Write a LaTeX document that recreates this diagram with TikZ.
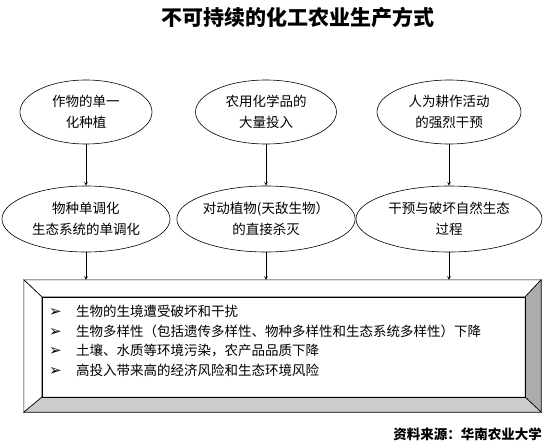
\documentclass[tikz,border=0pt]{standalone}
\usepackage{fontspec}
\setmainfont{Noto Sans CJK SC}
\newfontfamily\symfont{DejaVu Sans}
\usetikzlibrary{shapes.geometric, arrows, positioning}
\tikzstyle{cause} = [ellipse, draw=black, line width=0.6pt, inner sep=0pt, minimum height=64pt, align=center, font=\fontsize{13.5}{21}\selectfont]
\tikzstyle{effect} = [cause, minimum height=66pt]
\tikzstyle{bevel} = [draw=black, line width=0.6pt, line join=miter]
\tikzstyle{arrow} = [line width=0.6pt,->,>=stealth]
\newcommand{\bulletmark}{\makebox[27pt][l]{\symfont\fontsize{15}{15}\selectfont ➢}}

\begin{document}
\begin{tikzpicture}[x=1pt, y=-1pt]
\useasboundingbox (0,0) rectangle (544,442);

\node (title) at (298,17) {\fontsize{21}{24}\selectfont\bfseries 不可持续的化工农业生产方式};

% causes
\node (t1) [cause, minimum width=132pt] at (86,112) {作物的单一\\化种植};
\node (t2) [cause, minimum width=141pt] at (266,112) {农用化学品的\\大量投入};
\node (t3) [cause, minimum width=144pt] at (449,112) {人为耕作活动\\的强烈干预};

% effects
\node (m1) [effect, minimum width=168pt] at (86,219) {物种单调化\\生态系统的单调化};
\node (m2) [effect, minimum width=177pt] at (266,219) {对动植物(天敌生物）\\的直接杀灭};
\node (m3) [effect, minimum width=186pt] at (449,219) {干预与破坏自然生态\\过程};

% result panel
\node (frame) [minimum width=517pt, minimum height=132pt, inner sep=0pt] at (282.5,346) {};
\node (panel) [minimum width=483pt, minimum height=100pt, inner sep=0pt] at (283.5,347) {};
\filldraw [bevel, fill=white] (frame.north west) -- (frame.north east) -- (panel.north east) -- (panel.north west) -- cycle;
\filldraw [bevel, fill=white] (frame.north west) -- (panel.north west) -- (panel.south west) -- (frame.south west) -- cycle;
\filldraw [bevel, fill=gray!65] (frame.north east) -- (frame.south east) -- (panel.south east) -- (panel.north east) -- cycle;
\filldraw [bevel, fill=gray!40] (frame.south west) -- (frame.south east) -- (panel.south east) -- (panel.south west) -- cycle;
\draw [bevel] (panel.north west) rectangle (panel.south east);

\node (list) [anchor=west, inner sep=0pt, align=left, font=\fontsize{13.5}{19.5}\selectfont] at (49,341)
  {\bulletmark 生物的生境遭受破坏和干扰\\
   \bulletmark 生物多样性（包括遗传多样性、物种多样性和生态系统多样性）下降\\
   \bulletmark 土壤、水质等环境污染，农产品品质下降\\
   \bulletmark 高投入带来高的经济风险和生态环境风险};

\node (source) [anchor=east, inner sep=0pt, font=\fontsize{13.5}{16}\selectfont\bfseries] at (542,434) {资料来源：华南农业大学};

\draw [arrow] (t1) -- (m1);
\draw [arrow] (t2) -- (m2);
\draw [arrow] (t3) -- (m3);
\draw [arrow] (m1.south) -- (m1.south |- frame.north);
\draw [arrow] (m2.south) -- (m2.south |- frame.north);
\draw [arrow] (m3.south) -- (m3.south |- frame.north);
\end{tikzpicture}
\end{document}
